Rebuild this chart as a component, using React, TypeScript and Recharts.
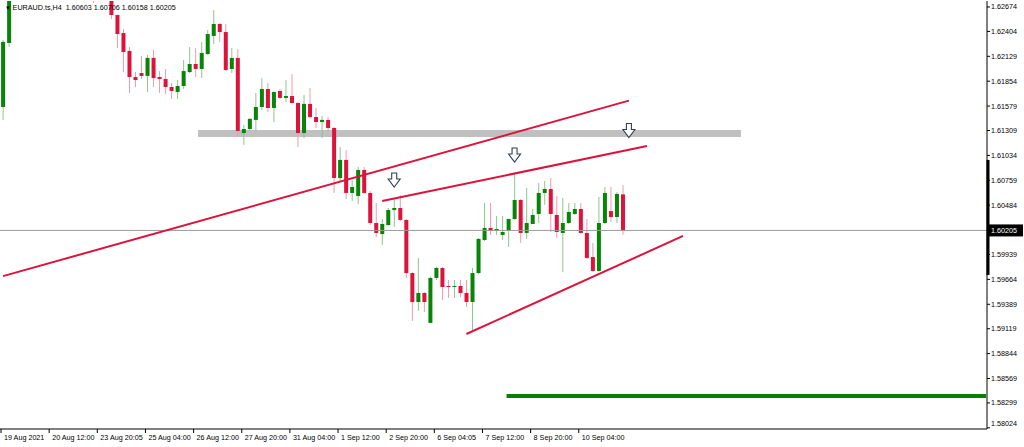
import React from 'react';
import { ComposedChart, Bar, Line, Scatter, XAxis, YAxis, ReferenceLine } from 'recharts';

// H4 candles, bar 0 = 19 Aug 2021 (bars 2..17 sit above the visible price range)
const opens = [
  1.61569, 1.62276, 1.62864, 1.6295, 1.6308, 1.6302, 1.631, 1.6323, 1.6316, 1.6309, 1.6314, 1.6321, 1.6313, 1.6301, 1.6305, 1.6298, 1.6285, 1.6294,
  1.6289, 1.62585, 1.62386, 1.62188, 1.619, 1.61944, 1.61912, 1.62111, 1.619, 1.61878, 1.6179, 1.61735, 1.61801, 1.61955, 1.62044, 1.61989, 1.62154, 1.62354, 1.62486, 1.62397, 1.61989, 1.62111,
  1.61281, 1.61326, 1.61426, 1.61569, 1.61768, 1.61558, 1.61746, 1.61669, 1.6169, 1.61613, 1.61281, 1.61603, 1.61458, 1.61403, 1.61426, 1.61337, 1.60784, 1.60984, 1.60619, 1.60585,
  1.60873, 1.60619, 1.60287, 1.60165, 1.60265, 1.60431, 1.60453, 1.60321, 1.59734, 1.59414, 1.59514, 1.59183, 1.5968, 1.5979, 1.59591, 1.5958, 1.59591, 1.59514, 1.59414, 1.59734,
  1.60099, 1.60232, 1.60199, 1.60155, 1.60199, 1.60331, 1.60541, 1.60177, 1.60276, 1.60387, 1.60619, 1.60663, 1.60376, 1.60177, 1.60287, 1.60387, 1.60442, 1.60177, 1.59911, 1.59757,
  1.60287, 1.60419, 1.60353, 1.60603,
];
const highs = [
  1.62309, 1.6292, 1.6301, 1.6312, 1.632, 1.6315, 1.6328, 1.6332, 1.6325, 1.6319, 1.6326, 1.633, 1.6318, 1.6309, 1.6311, 1.6304, 1.6299, 1.63,
  1.6292, 1.62591, 1.62431, 1.62232, 1.61955, 1.62132, 1.62143, 1.62199, 1.61966, 1.61989, 1.61834, 1.61867, 1.62088, 1.62232, 1.6222, 1.62288, 1.6242, 1.6264, 1.62497, 1.62486, 1.6222, 1.62209,
  1.6137, 1.61447, 1.61723, 1.61889, 1.61834, 1.61741, 1.61768, 1.61867, 1.61934, 1.61624, 1.61701, 1.61778, 1.61558, 1.61469, 1.61458, 1.61348, 1.61127, 1.61094, 1.60762, 1.60906,
  1.60906, 1.60641, 1.60508, 1.60331, 1.60453, 1.60553, 1.60596, 1.60331, 1.59745, 1.59901, 1.59525, 1.59691, 1.59801, 1.59801, 1.59657, 1.59657, 1.59657, 1.59657, 1.5979, 1.60122,
  1.60508, 1.60508, 1.60365, 1.60365, 1.60337, 1.6084, 1.60552, 1.60674, 1.60442, 1.60729, 1.60752, 1.60784, 1.60585, 1.60564, 1.60508, 1.60508, 1.60508, 1.60331, 1.60067, 1.60575,
  1.60685, 1.60685, 1.6063, 1.60706,
];
const lows = [
  1.61426, 1.62232, 1.6279, 1.629, 1.6298, 1.6292, 1.6305, 1.6311, 1.6304, 1.6299, 1.6306, 1.631, 1.6296, 1.629, 1.6293, 1.62718, 1.628, 1.6284,
  1.62542, 1.6222, 1.61955, 1.61723, 1.6179, 1.61878, 1.61735, 1.6179, 1.61723, 1.61712, 1.61657, 1.61657, 1.61768, 1.61944, 1.619, 1.61889, 1.62143, 1.62265, 1.62288, 1.61966, 1.61944, 1.61238,
  1.61149, 1.61304, 1.61304, 1.61535, 1.61514, 1.61403, 1.61657, 1.61624, 1.61607, 1.61127, 1.61226, 1.61447, 1.61337, 1.61226, 1.61293, 1.60619, 1.60741, 1.60553, 1.6053, 1.60497,
  1.60608, 1.60265, 1.60133, 1.60044, 1.60254, 1.60243, 1.6031, 1.5968, 1.59205, 1.59315, 1.59305, 1.59183, 1.59657, 1.59437, 1.59459, 1.59459, 1.5947, 1.59359, 1.59105, 1.59724,
  1.60088, 1.60155, 1.60155, 1.60099, 1.60022, 1.60321, 1.60067, 1.60111, 1.60276, 1.60287, 1.60487, 1.60188, 1.60122, 1.59746, 1.60276, 1.60376, 1.60165, 1.5989, 1.59746, 1.59746,
  1.60276, 1.60299, 1.60287, 1.60158,
];
const closes = [
  1.62288, 1.62864, 1.6295, 1.6308, 1.6302, 1.631, 1.6323, 1.6316, 1.6309, 1.6314, 1.6321, 1.6313, 1.6301, 1.6305, 1.6298, 1.6285, 1.6294, 1.6289,
  1.62585, 1.62375, 1.62177, 1.619, 1.61867, 1.61912, 1.62111, 1.61889, 1.61878, 1.6179, 1.61746, 1.61801, 1.61966, 1.62044, 1.61989, 1.62166, 1.62375, 1.62486, 1.62397, 1.61978, 1.62111, 1.61304,
  1.61326, 1.61437, 1.61569, 1.61768, 1.61558, 1.61735, 1.61669, 1.6169, 1.61613, 1.61281, 1.61603, 1.61458, 1.61403, 1.61426, 1.61337, 1.60784, 1.60984, 1.60619, 1.60685, 1.60873,
  1.60619, 1.60287, 1.60177, 1.60276, 1.60431, 1.60453, 1.60321, 1.59734, 1.59414, 1.59514, 1.59414, 1.5968, 1.5979, 1.5958, 1.5958, 1.59591, 1.59514, 1.59414, 1.59734, 1.60111,
  1.60232, 1.60199, 1.60221, 1.60188, 1.60331, 1.60541, 1.60177, 1.60287, 1.60376, 1.60619, 1.60663, 1.60387, 1.60188, 1.60287, 1.60409, 1.60442, 1.60177, 1.59901, 1.59757, 1.60287,
  1.60619, 1.60353, 1.60608, 1.60205,
];

const xTickBars = [0, 8, 16, 24, 32, 40, 48, 56, 64, 72, 80, 88, 96];
const xTickLabels = [
  '19 Aug 2021', '20 Aug 12:00', '23 Aug 20:05', '25 Aug 04:00', '26 Aug 12:00', '27 Aug 20:00', '31 Aug 04:00',
  '1 Sep 12:00', '2 Sep 20:00', '6 Sep 04:05', '7 Sep 12:00', '8 Sep 20:00', '10 Sep 04:00',
];
const priceTicks = [
  1.62674, 1.62404, 1.62129, 1.61854, 1.61579, 1.61309, 1.61034, 1.60759, 1.60484, 1.60205,
  1.59939, 1.59664, 1.59389, 1.59119, 1.58844, 1.58569, 1.58299, 1.58024,
];
const lastPrice = 1.60205;
const priceDomain = [1.58011, 1.6274];

// drawn objects: [bar index, price]
const upperTrend = [[0, 1.597], [104, 1.61639]];
const midTrend = [[63, 1.6053], [107, 1.61138]];
const supportTrend = [[77, 1.59061], [113, 1.60144]];
const zoneBars = [33, 122];
const zonePrices = [1.61243, 1.6132];
const targetLevel = [[84, 1.58376], [163, 1.58376]];
const arrowMarks = [[65, 1.60762], [85, 1.61038], [104, 1.61309]];
const axisMarker = [1.60984, 1.59713];

const SLOTS = 164;
const PLOT_H = 428;
const FONT = '"Liberation Sans", Arial, sans-serif';

const at = (pts: number[][], i: number) => {
  const f = pts.find((p) => p[0] === i);
  return f ? f[1] : null;
};

const chartData = Array.from({ length: SLOTS }, (_, i) => ({
  i,
  open: opens[i] ?? null,
  high: highs[i] ?? null,
  low: lows[i] ?? null,
  close: closes[i] ?? null,
  range: opens[i] != null ? [lows[i], highs[i]] : null,
  zone: i >= zoneBars[0] && i <= zoneBars[1] ? zonePrices : null,
  t1: at(upperTrend, i),
  t2: at(midTrend, i),
  t3: at(supportTrend, i),
  target: at(targetLevel, i),
  arrow: at(arrowMarks, i),
}));

const Candle = (props: any) => {
  const { x, y, width, height, payload } = props;
  if (!payload || payload.open == null || !height) return <g />;
  const { open, close, high, low } = payload;
  const top = Math.min(y, y + height);
  const h = Math.abs(height);
  const k = h / (high - low);
  const yOf = (v: number) => top + (high - v) * k;
  const cx = x + width / 2;
  const up = close >= open;
  const bTop = yOf(Math.max(open, close));
  const bBot = yOf(Math.min(open, close));
  return (
    <g>
      <line x1={cx} x2={cx} y1={top} y2={top + h} stroke={up ? '#8cc68c' : '#f09aab'} strokeWidth={1} />
      <rect x={cx - 2} y={bTop} width={4} height={Math.max(1, bBot - bTop)} fill={up ? '#088408' : '#dc143c'} />
    </g>
  );
};

// one slot-wide piece of the grey resistance zone
const ZonePiece = (props: any) => {
  const { x, y, width, height } = props;
  if (!height) return <g />;
  const cx = x + width / 2;
  return (
    <rect
      x={Math.floor(cx - 3.5)}
      y={Math.round(Math.min(y, y + height))}
      width={8}
      height={Math.round(Math.abs(height))}
      fill="#c0c0c0"
      shapeRendering="crispEdges"
    />
  );
};

const ArrowMark = (props: any) => {
  const { cx, cy, payload } = props;
  if (!payload || payload.arrow == null || !isFinite(cx) || !isFinite(cy)) return <g />;
  const d = `M${cx - 2.5},${cy - 7} L${cx + 2.5},${cy - 7} L${cx + 2.5},${cy - 1} L${cx + 6},${cy - 1} L${cx},${cy + 7} L${cx - 6},${cy - 1} L${cx - 2.5},${cy - 1} Z`;
  return <path d={d} fill="#fff" stroke="#2f3e57" strokeWidth={1.1} />;
};

const PriceTick = (props: any) => {
  const { x, y, payload } = props;
  const v = Number(payload.value);
  const px = Number(x);
  const py = Number(y);
  // MT4 keeps the lowest label inside the pane
  const ty = Math.min(py, 423);
  if (v === lastPrice) {
    const perUnit = PLOT_H / (priceDomain[1] - priceDomain[0]);
    const m1 = py - (axisMarker[0] - lastPrice) * perUnit;
    const m2 = py - (axisMarker[1] - lastPrice) * perUnit;
    return (
      <g>
        <line x1={px + 1} x2={px + 1} y1={m1} y2={m2} stroke="#000" strokeWidth={3} />
        <rect x={px} y={py - 6} width={36} height={12} fill="#000" />
        <text x={px + 4} y={py} dy="0.35em" fontSize={7.2} fontFamily={FONT} fill="#fff">{v.toFixed(5)}</text>
      </g>
    );
  }
  return (
    <g>
      <line x1={px} x2={px + 3} y1={py} y2={py} stroke="#000" />
      <text x={px + 4} y={ty} dy="0.35em" fontSize={7.2} fontFamily={FONT} fill="#000">{v.toFixed(5)}</text>
    </g>
  );
};

const TimeTick = (props: any) => {
  const { x, y, payload } = props;
  const idx = xTickBars.indexOf(payload.value);
  return (
    <g>
      <line x1={x - 2} x2={x - 2} y1={y} y2={y + 4} stroke="#000" />
      <text x={x + 1} y={y + 11} fontSize={7.2} fontFamily={FONT} fill="#000">{xTickLabels[idx]}</text>
    </g>
  );
};

export default function App() {
  return (
    <div style={{ position: 'absolute', left: 0, top: 0, width: 1024, height: 447, background: '#fff' }}>
      <ComposedChart width={1024} height={447} data={chartData} margin={{ top: 1, right: 0, bottom: 0, left: 0 }}>
        <XAxis
          dataKey="i"
          type="category"
          ticks={xTickBars}
          interval={0}
          tick={<TimeTick />}
          tickLine={false}
          tickSize={0}
          tickMargin={0}
          height={18}
          axisLine={{ stroke: '#000' }}
        />
        <XAxis xAxisId="zone" dataKey="i" type="category" hide />
        <YAxis
          orientation="right"
          type="number"
          domain={priceDomain}
          allowDataOverflow
          ticks={priceTicks}
          interval={0}
          tick={<PriceTick />}
          tickLine={false}
          tickSize={0}
          tickMargin={0}
          width={37}
          axisLine={{ stroke: '#000' }}
        />
        <ReferenceLine y={lastPrice} stroke="#9a9a9a" strokeWidth={1} />
        <Bar xAxisId="zone" dataKey="zone" shape={<ZonePiece />} isAnimationActive={false} />
        <Bar dataKey="range" shape={<Candle />} isAnimationActive={false} />
        <Line dataKey="t1" stroke="#dc143c" strokeWidth={2} dot={false} connectNulls isAnimationActive={false} />
        <Line dataKey="t2" stroke="#dc143c" strokeWidth={2} dot={false} connectNulls isAnimationActive={false} />
        <Line dataKey="t3" stroke="#dc143c" strokeWidth={2} dot={false} connectNulls isAnimationActive={false} />
        <Line dataKey="target" stroke="#078007" strokeWidth={4} strokeLinecap="square" dot={false} connectNulls isAnimationActive={false} />
        <Scatter dataKey="arrow" shape={<ArrowMark />} isAnimationActive={false} />
      </ComposedChart>
      <div
        style={{
          position: 'absolute', left: 5, top: 3, fontFamily: FONT, fontSize: 7.2, color: '#000',
          whiteSpace: 'pre', lineHeight: '9px',
        }}
      >
        <span style={{ fontSize: 6 }}>▼ </span>EURAUD.ts,H4  1.60603 1.60706 1.60158 1.60205
      </div>
    </div>
  );
}
